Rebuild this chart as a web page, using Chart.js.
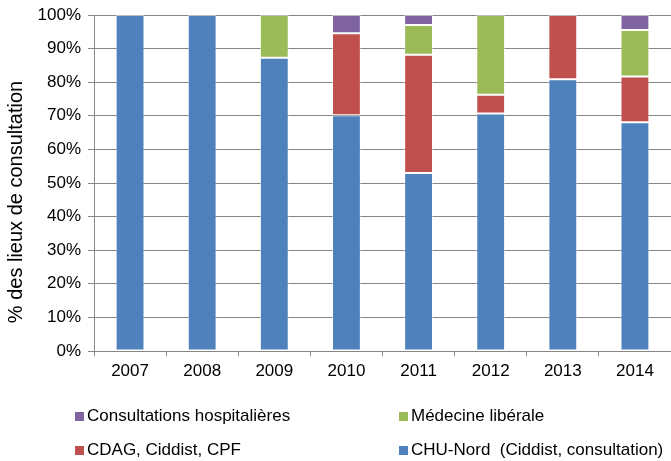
<!DOCTYPE html>
<html>
<head>
<meta charset="utf-8">
<script src="https://cdn.jsdelivr.net/npm/chart.js@4/dist/chart.umd.min.js"></script>
<style>
  body { margin: 0; background: #fff; }
  #wrap { position: relative; width: 671px; height: 461px; overflow: hidden; }
  #legend { position: absolute; left: 0; top: 0; width: 671px; height: 461px; pointer-events: none;
            font-family: "Liberation Sans", Arial, sans-serif; font-size: 17px; color: #000; }
  .item { position: absolute; display: flex; align-items: center; white-space: pre; height: 20px; }
  .box { width: 9px; height: 9px; margin-right: 3px; }
</style>
</head>
<body>
<div id="wrap">
  <canvas id="grafico" width="671" height="461"></canvas>
  <div id="legend"></div>
</div>
<script>
const annees = ['2007', '2008', '2009', '2010', '2011', '2012', '2013', '2014'];
const chuNord = [100, 100, 87.3, 70.2, 53.0, 70.7, 80.9, 68.1];
const cdag = [0, 0, 0, 24.4, 35.2, 5.6, 19.1, 13.6];
const medecineLiberale = [0, 0, 12.7, 0, 8.8, 23.7, 0, 13.8];
const consultationsHosp = [0, 0, 0, 5.4, 3.0, 0, 0, 4.5];
const yTicks = [0, 10, 20, 30, 40, 50, 60, 70, 80, 90, 100];
const titreY = '% des lieux de consultation';

const fontFamily = '"Liberation Sans", Arial, sans-serif';
const font = { family: fontFamily, size: 17 };

function serie(label, data, color) {
    return {
        label: label,
        data: data,
        backgroundColor: color,
        borderColor: 'rgba(255,255,255,0.45)',
        borderWidth: 1,
        borderSkipped: false,
        barPercentage: 1,
        categoryPercentage: 0.4,
    };
}

// titre de l'axe Y, un peu plus bas que le centre comme dans l'original
const titrePlugin = {
    id: 'titreY',
    afterDraw(chart) {
        const c = chart.ctx;
        c.save();
        c.translate(16, 202);
        c.rotate(-Math.PI / 2);
        c.font = '20px ' + fontFamily;
        c.fillStyle = '#000';
        c.textAlign = 'center';
        c.textBaseline = 'middle';
        c.fillText(titreY, 0, 0);
        c.restore();
    },
};

const ctx = document.getElementById('grafico').getContext('2d');
const chart = new Chart(ctx, {
    type: 'bar',
    data: {
        labels: annees,
        datasets: [
            serie('CHU-Nord  (Ciddist, consultation)', chuNord, '#4F81BD'),
            serie('CDAG, Ciddist, CPF', cdag, '#C0504D'),
            serie('Médecine libérale', medecineLiberale, '#9BBB59'),
            serie('Consultations hospitalières', consultationsHosp, '#8064A2'),
        ],
    },
    plugins: [titrePlugin],
    options: {
        responsive: false,
        animation: false,
        layout: { padding: { top: 15, right: -3, bottom: 80, left: 0 } },
        plugins: { legend: { display: false }, tooltip: { enabled: false } },
        scales: {
            x: {
                stacked: true,
                grid: { drawOnChartArea: false, drawTicks: true, tickLength: 5, color: '#868686', offset: true },
                border: { color: '#868686', width: 1 },
                ticks: { color: '#000', font: font, padding: 5 },
                afterFit: (scale) => { scale.height = 30; },
            },
            y: {
                stacked: true,
                min: 0,
                max: 100,
                afterBuildTicks: (scale) => { scale.ticks = yTicks.map((v) => ({ value: v })); },
                grid: { color: '#868686', lineWidth: 1, tickLength: 6 },
                border: { color: '#868686', width: 1 },
                ticks: { color: '#000', font: font, padding: 7, callback: (v) => v + '%' },
                afterFit: (scale) => {
                    scale.width = 94;
                    scale.paddingTop = 0;
                    scale.paddingBottom = 0;
                },
            },
        },
    },
});

// legende en deux colonnes, comme dans l'original
const legend = document.getElementById('legend');
const positions = [[75, 406], [399, 406], [75, 440], [399, 440]];
const ordre = [3, 2, 1, 0];
ordre.forEach((i, k) => {
    const ds = chart.data.datasets[i];
    const el = document.createElement('div');
    el.className = 'item';
    el.style.left = positions[k][0] + 'px';
    el.style.top = positions[k][1] + 'px';
    el.innerHTML = '<span class="box" style="background:' + ds.backgroundColor + '"></span>';
    el.appendChild(document.createTextNode(ds.label));
    legend.appendChild(el);
});
</script>
</body>
</html>
